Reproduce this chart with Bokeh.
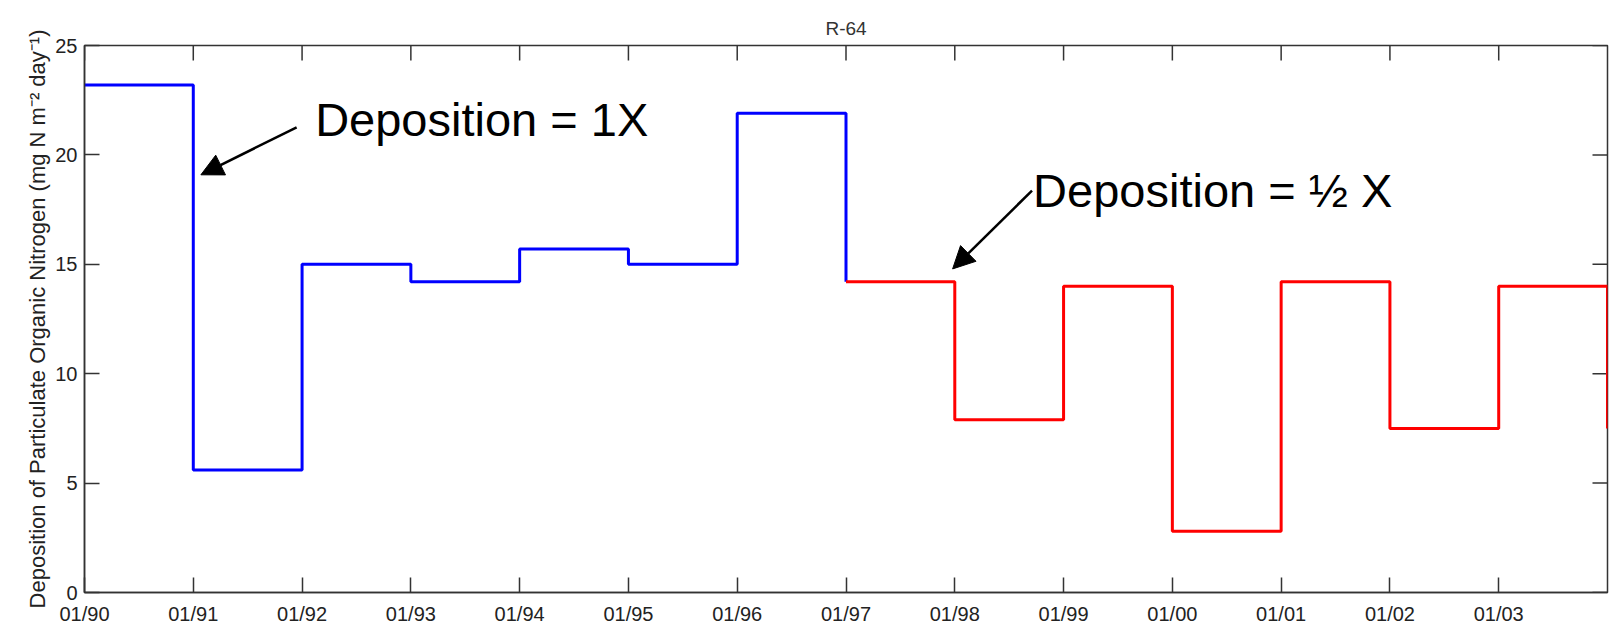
import math
from bokeh.plotting import figure
from bokeh.models import FixedTicker, Range1d, Arrow, NormalHead, Label, Title
from bokeh.embed import file_html
from bokeh.resources import INLINE

# ---- data ----
years_1x = [1990, 1991, 1992, 1993, 1994, 1995, 1996, 1997]
pon_1x = [23.2, 5.6, 15.0, 14.2, 15.7, 15.0, 21.9, 14.2]
years_half = [1997, 1998, 1999, 2000, 2001, 2002, 2003, 2004]
pon_half = [14.2, 7.9, 14.0, 2.8, 14.2, 7.5, 14.0, 7.5]
tick_years = [1990, 1991, 1992, 1993, 1994, 1995, 1996, 1997, 1998, 1999,
              2000, 2001, 2002, 2003]
tick_labels = ["01/90", "01/91", "01/92", "01/93", "01/94", "01/95", "01/96",
               "01/97", "01/98", "01/99", "01/00", "01/01", "01/02", "01/03"]
y_ticks = [0, 5, 10, 15, 20, 25]
x_min, x_max = 1990, 2004
y_min, y_max = 0, 25

title_text = "R-64"
ylabel = "Deposition of Particulate Organic Nitrogen (mg N m\u207B\u00B2 day\u207B\u00B9)"
note_1x = "Deposition = 1X"
note_half = "Deposition = \u00BD X"
# annotation anchors in data units (year, value)
note_1x_pos = (1992.12, 21.62)
arrow_1x = (1991.95, 21.26, 1991.07, 19.09)
note_half_pos = (1998.72, 18.39)
arrow_half = (1998.71, 18.37, 1997.98, 14.79)

FONT = "Liberation Sans"
AX = "#333333"

p = figure(width=1614, height=631, output_backend="svg", toolbar_location=None,
           x_range=Range1d(x_min, x_max), y_range=Range1d(y_min, y_max),
           min_border_left=84, min_border_right=7, min_border_top=45,
           min_border_bottom=39)
p.title = Title(text=title_text, align="center", vertical_align="top",
                text_font=FONT, text_font_size="19px",
                text_font_style="normal", text_color="#333333")
p.grid.visible = False
p.outline_line_color = AX
p.outline_line_width = 1.5
p.background_fill_color = "white"
p.border_fill_color = "white"

def style_axis(ax):
    ax.axis_line_color = AX
    ax.axis_line_width = 1.5
    ax.major_tick_line_color = AX
    ax.major_tick_line_width = 1.5
    ax.major_tick_in = 15
    ax.major_tick_out = 0
    ax.minor_tick_line_color = None
    ax.major_label_text_font = FONT
    ax.major_label_text_color = "#222222"
    ax.major_label_text_font_size = "20px"

xa = p.xaxis[0]
xa.ticker = FixedTicker(ticks=tick_years)
xa.major_label_overrides = {y: l for y, l in zip(tick_years, tick_labels)}
style_axis(xa)
xa.major_label_standoff = 10

ya = p.yaxis[0]
ya.ticker = FixedTicker(ticks=y_ticks)
style_axis(ya)
ya.major_label_standoff = 7
ya.axis_label = ylabel
ya.axis_label_text_font = FONT
ya.axis_label_text_font_size = "22px"
ya.axis_label_text_font_style = "normal"
ya.axis_label_text_color = "#222222"
ya.axis_label_standoff = 2

# inward ticks on the top and right frame edges (clipped to the frame)
p.scatter(x=tick_years, y=[y_max] * len(tick_years), marker="dash", size=30,
          angle=math.pi / 2, line_color=AX, line_width=1.5)
p.scatter(x=[x_max] * len(y_ticks), y=y_ticks, marker="dash", size=30,
          line_color=AX, line_width=1.5)

p.step(years_1x, pon_1x, mode="after", line_color="#0000ff", line_width=3)
p.step(years_half, pon_half, mode="after", line_color="#ff0000", line_width=3)

for (x0, y0, x1, y1) in [arrow_1x, arrow_half]:
    p.add_layout(Arrow(x_start=x0, y_start=y0, x_end=x1, y_end=y1,
                       line_color="black", line_width=2.5,
                       end=NormalHead(size=22, fill_color="black",
                                      line_color="black")))

for (pos, txt) in [(note_1x_pos, note_1x), (note_half_pos, note_half)]:
    p.add_layout(Label(x=pos[0], y=pos[1], text=txt, text_font=FONT,
                       text_font_size="47px", text_color="black",
                       text_baseline="alphabetic", text_align="left"))

open("out.html", "w").write(file_html(p, INLINE))
